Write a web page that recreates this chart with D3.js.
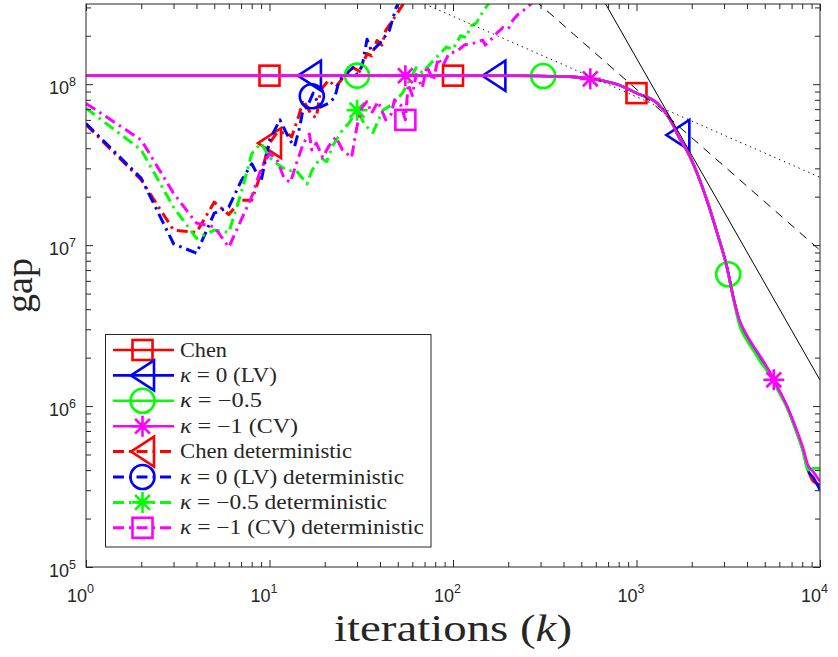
<!DOCTYPE html>
<html>
<head>
<meta charset="utf-8">
<script src="https://cdn.jsdelivr.net/npm/d3@7"></script>
<style>
body { margin: 0; background: #fff; }
text { fill: #262626; }
</style>
</head>
<body>
<script>
// ---- data ----
// stochastic runs (shared iteration grid)
let stochK = [1, 10, 100, 200, 300, 450, 600, 800, 1000, 1300, 1580, 1700, 1900, 2140, 2420, 2750, 3110, 3360, 3630, 4000, 4350, 4710, 5340, 5830, 6610, 7500, 8080, 8600, 9200, 10000]
let chenVals = [1.13e8, 1.13e8, 1.13e8, 1.128e8, 1.125e8, 1.11e8, 1.07e8, 9.9e7, 8.8e7, 7.6e7, 5.6e7, 4.7e7, 3.8e7, 2.8e7, 1.9e7, 1.19e7, 7.3e6, 4.8e6, 3.4e6, 2.7e6, 2.3e6, 2.0e6, 1.6e6, 1.31e6, 9.9e5, 6.8e5, 5.3e5, 4.0e5, 3.4e5, 3.25e5]
let lvVals = [1.13e8, 1.13e8, 1.13e8, 1.128e8, 1.125e8, 1.11e8, 1.07e8, 9.9e7, 8.8e7, 7.6e7, 5.6e7, 4.7e7, 3.8e7, 2.8e7, 1.9e7, 1.19e7, 7.3e6, 4.8e6, 3.4e6, 2.7e6, 2.3e6, 2.0e6, 1.6e6, 1.31e6, 9.9e5, 6.8e5, 5.3e5, 4.0e5, 3.6e5, 3.0e5]
let m05Vals = [1.13e8, 1.13e8, 1.13e8, 1.128e8, 1.125e8, 1.11e8, 1.07e8, 9.9e7, 8.8e7, 7.6e7, 5.6e7, 4.7e7, 3.8e7, 2.8e7, 1.9e7, 1.19e7, 7.2e6, 4.7e6, 3.2e6, 2.55e6, 2.2e6, 1.9e6, 1.55e6, 1.28e6, 9.7e5, 6.7e5, 5.2e5, 4.0e5, 4.1e5, 4.1e5]
let cvVals = [1.13e8, 1.13e8, 1.13e8, 1.128e8, 1.125e8, 1.11e8, 1.07e8, 9.9e7, 8.8e7, 7.6e7, 5.6e7, 4.7e7, 3.8e7, 2.8e7, 1.9e7, 1.19e7, 7.3e6, 4.8e6, 3.45e6, 2.75e6, 2.35e6, 2.05e6, 1.62e6, 1.33e6, 1.0e6, 7.0e5, 5.5e5, 4.3e5, 3.9e5, 3.4e5]

// deterministic runs
let detChenK = [1, 2, 3, 4, 5, 6, 7, 8, 9, 10, 11, 12.4, 13.2, 14.6, 15.2, 17, 18, 19, 21, 23, 25, 27, 28.5, 31, 34, 36, 38.5, 41, 43, 48, 53, 57]
let detChenV = [5.6e7, 2.54e7, 1.24e7, 1.2e7, 1.85e7, 1.55e7, 1.9e7, 1.9e7, 2.8e7, 4.3e7, 5.0e7, 5.0e7, 4.7e7, 6.6e7, 8.0e7, 6.4e7, 6.2e7, 9.2e7, 1.06e8, 9.6e7, 1.09e8, 1.17e8, 1.27e8, 1.2e8, 1.55e8, 1.5e8, 1.87e8, 1.75e8, 2.16e8, 2.6e8, 3.1e8, 3.5e8]
let detLvK = [1, 2, 3, 4, 5, 6, 7, 8, 9, 10, 11.4, 12.9, 13.7, 14.6, 15.2, 16, 17.3, 18.9, 21, 22.7, 24, 26.4, 28.5, 30, 32, 34, 36, 40, 45, 49, 53]
let detLvV = [5.7e7, 2.6e7, 1.02e7, 8.9e6, 1.58e7, 1.72e7, 2.5e7, 3.2e7, 2.5e7, 4.5e7, 6.0e7, 4.5e7, 4.1e7, 5.4e7, 6.9e7, 7.2e7, 8.8e7, 7.2e7, 7.6e7, 8.3e7, 1.06e8, 1.17e8, 1.27e8, 1.15e8, 1.3e8, 1.9e8, 1.6e8, 1.8e8, 2.16e8, 3.0e8, 3.5e8]
let detM05K = [1, 2, 3, 4, 5, 6, 7, 8, 9, 10, 11, 12.5, 14, 16, 17, 19, 20.5, 22, 25, 27, 30, 33, 36.6, 41.5, 47, 53, 58, 63, 68, 78, 85, 92, 100, 110, 118, 125, 134, 145, 160]
let detM05V = [7.1e7, 3.9e7, 1.72e7, 1.1e7, 1.24e7, 1.2e7, 2.1e7, 3.7e7, 4.3e7, 3.5e7, 3.2e7, 2.9e7, 2.9e7, 2.4e7, 2.9e7, 3.5e7, 3.3e7, 4.1e7, 5.2e7, 5.7e7, 6.9e7, 5.6e7, 5.0e7, 6.9e7, 7.5e7, 8.8e7, 1.06e8, 1.27e8, 1.18e8, 1.4e8, 1.55e8, 1.7e8, 1.65e8, 2.0e8, 1.95e8, 2.3e8, 2.4e8, 2.8e8, 3.3e8]
let detCvK = [1, 2, 3, 4, 5, 6, 7, 8, 9, 10, 11, 12, 13, 14, 15.3, 16.5, 17, 18, 19.5, 21, 23, 25, 28, 30, 32, 34, 36, 39, 43, 46, 48, 52, 55, 57, 60, 63, 68, 72, 78, 83, 88, 95, 105, 115, 130, 145, 150, 166, 175, 187, 200, 212, 225, 240, 270]
let detCvV = [7.6e7, 4.5e7, 2.1e7, 1.37e7, 1.3e7, 9.7e6, 1.43e7, 2.0e7, 3.0e7, 3.7e7, 3.4e7, 2.6e7, 2.45e7, 3.2e7, 4.3e7, 4.9e7, 3.9e7, 4.3e7, 3.5e7, 4.1e7, 4.7e7, 3.9e7, 3.5e7, 5.5e7, 7.2e7, 7.8e7, 6.6e7, 7.8e7, 6.0e7, 6.5e7, 8.0e7, 7.4e7, 6.0e7, 1.0e8, 8.5e7, 1.15e8, 9.5e7, 1.3e8, 1.05e8, 1.45e8, 1.3e8, 1.55e8, 1.6e8, 1.75e8, 1.8e8, 1.88e8, 1.75e8, 1.96e8, 2.1e8, 2.25e8, 2.2e8, 2.5e8, 2.7e8, 2.85e8, 3.2e8]

// iterations where the markers sit
let chenMarks = [10, 100, 1000]
let lvMarks = [16.5, 167, 1680]
let m05Marks = [30, 310, 3160]
let cvMarks = [55, 560, 5600]
let detChenMarks = [10]
let detLvMarks = [17]
let detM05Marks = [30]
let detCvMarks = [55]

// black guide lines (end points)
let solidK = [600, 10000], solidV = [4.03e8, 1.45e6]
let dashK = [280, 10000], dashV = [3.32e8, 9.3e6]
let dotK = [55, 10000], dotV = [3.56e8, 2.64e7]

let legendLabels = ['Chen', 'κ = 0 (LV)', 'κ = −0.5', 'κ = −1 (CV)',
    'Chen deterministic', 'κ = 0 (LV) deterministic', 'κ = −0.5 deterministic', 'κ = −1 (CV) deterministic']
let legendWidths = [47, 97, 82, 118, 172, 224, 207, 244]

let xMajor = [1, 10, 100, 1000, 10000]
let yMajor = [1e5, 1e6, 1e7, 1e8]

// ---- layout ----
let svg = d3.select('body').append('svg')
    .attr('width', 838)
    .attr('height', 657)

let xScale = d3.scaleLog().domain([1, 1e4]).range([86, 820])
let yScale = d3.scaleLog().domain([1e5, 3.15e8]).range([567, 4])

svg.append('clipPath').attr('id', 'clip')
    .append('rect').attr('x', 86).attr('y', 4).attr('width', 734).attr('height', 563)

let line = d3.line()
    .x(d => xScale(d[0]))
    .y(d => yScale(d[1]))

// the stochastic runs are smooth curves
let smoothLine = d3.line()
    .x(d => xScale(d[0]))
    .y(d => yScale(d[1]))
    .curve(d3.curveMonotoneX)

let zip = (ks, vs) => ks.map((k, i) => [k, vs[i]])

// value of a series at k, linear in log-log between samples
function valueAt(pts, k) {
    for (let i = 0; i < pts.length - 1; i++) {
        let a = pts[i], b = pts[i + 1]
        if (k >= a[0] && k <= b[0]) {
            let t = (Math.log(k) - Math.log(a[0])) / (Math.log(b[0]) - Math.log(a[0]))
            return Math.exp(Math.log(a[1]) + t * (Math.log(b[1]) - Math.log(a[1])))
        }
    }
    return null
}

function drawMarker(g, type, cx, cy, color) {
    let m = g.append('g').attr('transform', 'translate(' + cx + ',' + cy + ')')
        .attr('fill', 'none').attr('stroke', color).attr('stroke-width', 2.6)
    if (type == 'square') {
        m.append('rect').attr('x', -10).attr('y', -10).attr('width', 20).attr('height', 20)
    } else if (type == 'tri') {
        m.append('path').attr('d', 'M-11.5,0L11.5,-15L11.5,15Z')
    } else if (type == 'circle') {
        m.append('circle').attr('r', 12)
    } else if (type == 'star') {
        m.append('path').attr('d', 'M0,-10.5V10.5M-10.5,0H10.5M-7.4,-7.4L7.4,7.4M-7.4,7.4L7.4,-7.4')
    }
}

let series = [
    { pts: zip(detChenK, detChenV), color: '#ff0000', det: true, marker: 'tri', marks: detChenMarks },
    { pts: zip(detLvK, detLvV), color: '#0000ff', det: true, marker: 'circle', marks: detLvMarks },
    { pts: zip(detM05K, detM05V), color: '#00ff00', det: true, marker: 'star', marks: detM05Marks },
    { pts: zip(detCvK, detCvV), color: '#ff00ff', det: true, marker: 'square', marks: detCvMarks },
    { pts: zip(stochK, chenVals), color: '#ff0000', det: false, marker: 'square', marks: chenMarks },
    { pts: zip(stochK, lvVals), color: '#0000ff', det: false, marker: 'tri', marks: lvMarks },
    { pts: zip(stochK, m05Vals), color: '#00ff00', det: false, marker: 'circle', marks: m05Marks },
    { pts: zip(stochK, cvVals), color: '#ff00ff', det: false, marker: 'star', marks: cvMarks }
]

let plot = svg.append('g').attr('clip-path', 'url(#clip)')

series.forEach(s => {
    let p = plot.append('path')
        .datum(s.pts)
        .attr('d', s.det ? line : smoothLine)
        .attr('fill', 'none')
        .attr('stroke', s.color)
        .attr('stroke-width', s.det ? 3 : 2.6)
        .attr('stroke-linejoin', 'round')
    if (s.det) p.attr('stroke-dasharray', '11,5,2.5,5')
    s.marks.forEach(k => {
        let v = valueAt(s.pts, k)
        if (v != null) drawMarker(plot, s.marker, xScale(k), yScale(v), s.color)
    })
})

// black guide lines
plot.append('path').datum(zip(solidK, solidV)).attr('d', line)
    .attr('fill', 'none').attr('stroke', '#000').attr('stroke-width', 1)
plot.append('path').datum(zip(dashK, dashV)).attr('d', line)
    .attr('fill', 'none').attr('stroke', '#000').attr('stroke-width', 1).attr('stroke-dasharray', '9,7')
plot.append('path').datum(zip(dotK, dotV)).attr('d', line)
    .attr('fill', 'none').attr('stroke', '#000').attr('stroke-width', 1).attr('stroke-dasharray', '1.3,4')

// ---- axes (ticks inside, on all four sides) ----
let xMinor = [], yMinor = []
xMajor.slice(0, -1).forEach(d => { for (let m = 2; m < 10; m++) xMinor.push(d * m) })
yMajor.forEach(d => { for (let m = 2; m < 10; m++) if (d * m <= 3.15e8) yMinor.push(d * m) })

function ticks(axisFn, scale, vals, size, tr) {
    let g = svg.append('g')
        .attr('transform', tr)
        .attr('color', '#262626')
        .call(axisFn(scale).tickValues(vals).tickSize(size).tickFormat(''))
    g.select('.domain').remove()
}
ticks(d3.axisBottom, xScale, xMajor, -7, 'translate(0,567)')
ticks(d3.axisBottom, xScale, xMinor, -5, 'translate(0,567)')
ticks(d3.axisTop, xScale, xMajor, -7, 'translate(0,4)')
ticks(d3.axisTop, xScale, xMinor, -5, 'translate(0,4)')
ticks(d3.axisLeft, yScale, yMajor, -7, 'translate(86,0)')
ticks(d3.axisLeft, yScale, yMinor, -5, 'translate(86,0)')
ticks(d3.axisRight, yScale, yMajor, -7, 'translate(820,0)')
ticks(d3.axisRight, yScale, yMinor, -5, 'translate(820,0)')

svg.append('rect')
    .attr('x', 86).attr('y', 4).attr('width', 734).attr('height', 563)
    .attr('fill', 'none').attr('stroke', '#262626').attr('stroke-width', 1)

// tick labels 10^n
xMajor.forEach(d => {
    let t = svg.append('text')
        .attr('x', xScale(d) - 19).attr('y', 602)
        .attr('font-family', 'Liberation Sans, Arial, sans-serif').attr('font-size', 18)
    t.append('tspan').text('10')
    t.append('tspan').attr('dy', -9).attr('font-size', 12.5).text(Math.round(Math.log10(d)))
})
yMajor.forEach(d => {
    let t = svg.append('text')
        .attr('x', 76).attr('y', yScale(d) + 10)
        .attr('text-anchor', 'end')
        .attr('font-family', 'Liberation Sans, Arial, sans-serif').attr('font-size', 18)
    t.append('tspan').text('10')
    t.append('tspan').attr('dy', -8).attr('font-size', 12.5).text(Math.round(Math.log10(d)))
})

// axis titles
let xt = svg.append('text')
    .attr('x', 453).attr('y', 641)
    .attr('text-anchor', 'middle')
    .attr('font-family', 'Liberation Serif, Times New Roman, serif').attr('font-size', 38)
    .attr('textLength', 238).attr('lengthAdjust', 'spacingAndGlyphs')
xt.append('tspan').text('iterations (')
xt.append('tspan').attr('font-style', 'italic').text('k')
xt.append('tspan').text(')')

svg.append('text')
    .attr('transform', 'translate(32,285.5) rotate(-90)')
    .attr('text-anchor', 'middle')
    .attr('font-family', 'Liberation Serif, Times New Roman, serif').attr('font-size', 38)
    .text('gap')

// ---- legend ----
let legend = svg.append('g')
legend.append('rect')
    .attr('x', 105.5).attr('y', 334.5).attr('width', 325.5).attr('height', 212.5)
    .attr('fill', '#fff').attr('stroke', '#262626').attr('stroke-width', 1)

let legendOrder = [4, 5, 6, 7, 0, 1, 2, 3]
legendOrder.forEach((si, i) => {
    let s = series[si]
    let ly = 350 + i * 25.4
    let ln = legend.append('line')
        .attr('x1', 113).attr('x2', 174).attr('y1', ly).attr('y2', ly)
        .attr('stroke', s.color).attr('stroke-width', s.det ? 3 : 2.6)
    if (s.det) ln.attr('stroke-dasharray', '11,5,2.5,5')
    drawMarker(legend, s.marker, 142.5, ly, s.color)

    let label = legendLabels[i]
    let t = legend.append('text')
        .attr('x', 180).attr('y', ly + 6.5)
        .attr('font-family', 'Liberation Serif, Times New Roman, serif').attr('font-size', 20)
        .attr('textLength', legendWidths[i]).attr('lengthAdjust', 'spacingAndGlyphs')
    if (label.startsWith('κ')) {
        t.append('tspan').attr('font-style', 'italic').text('κ')
        t.append('tspan').text(label.slice(1))
    } else {
        t.append('tspan').text(label)
    }
})
</script>
</body>
</html>
